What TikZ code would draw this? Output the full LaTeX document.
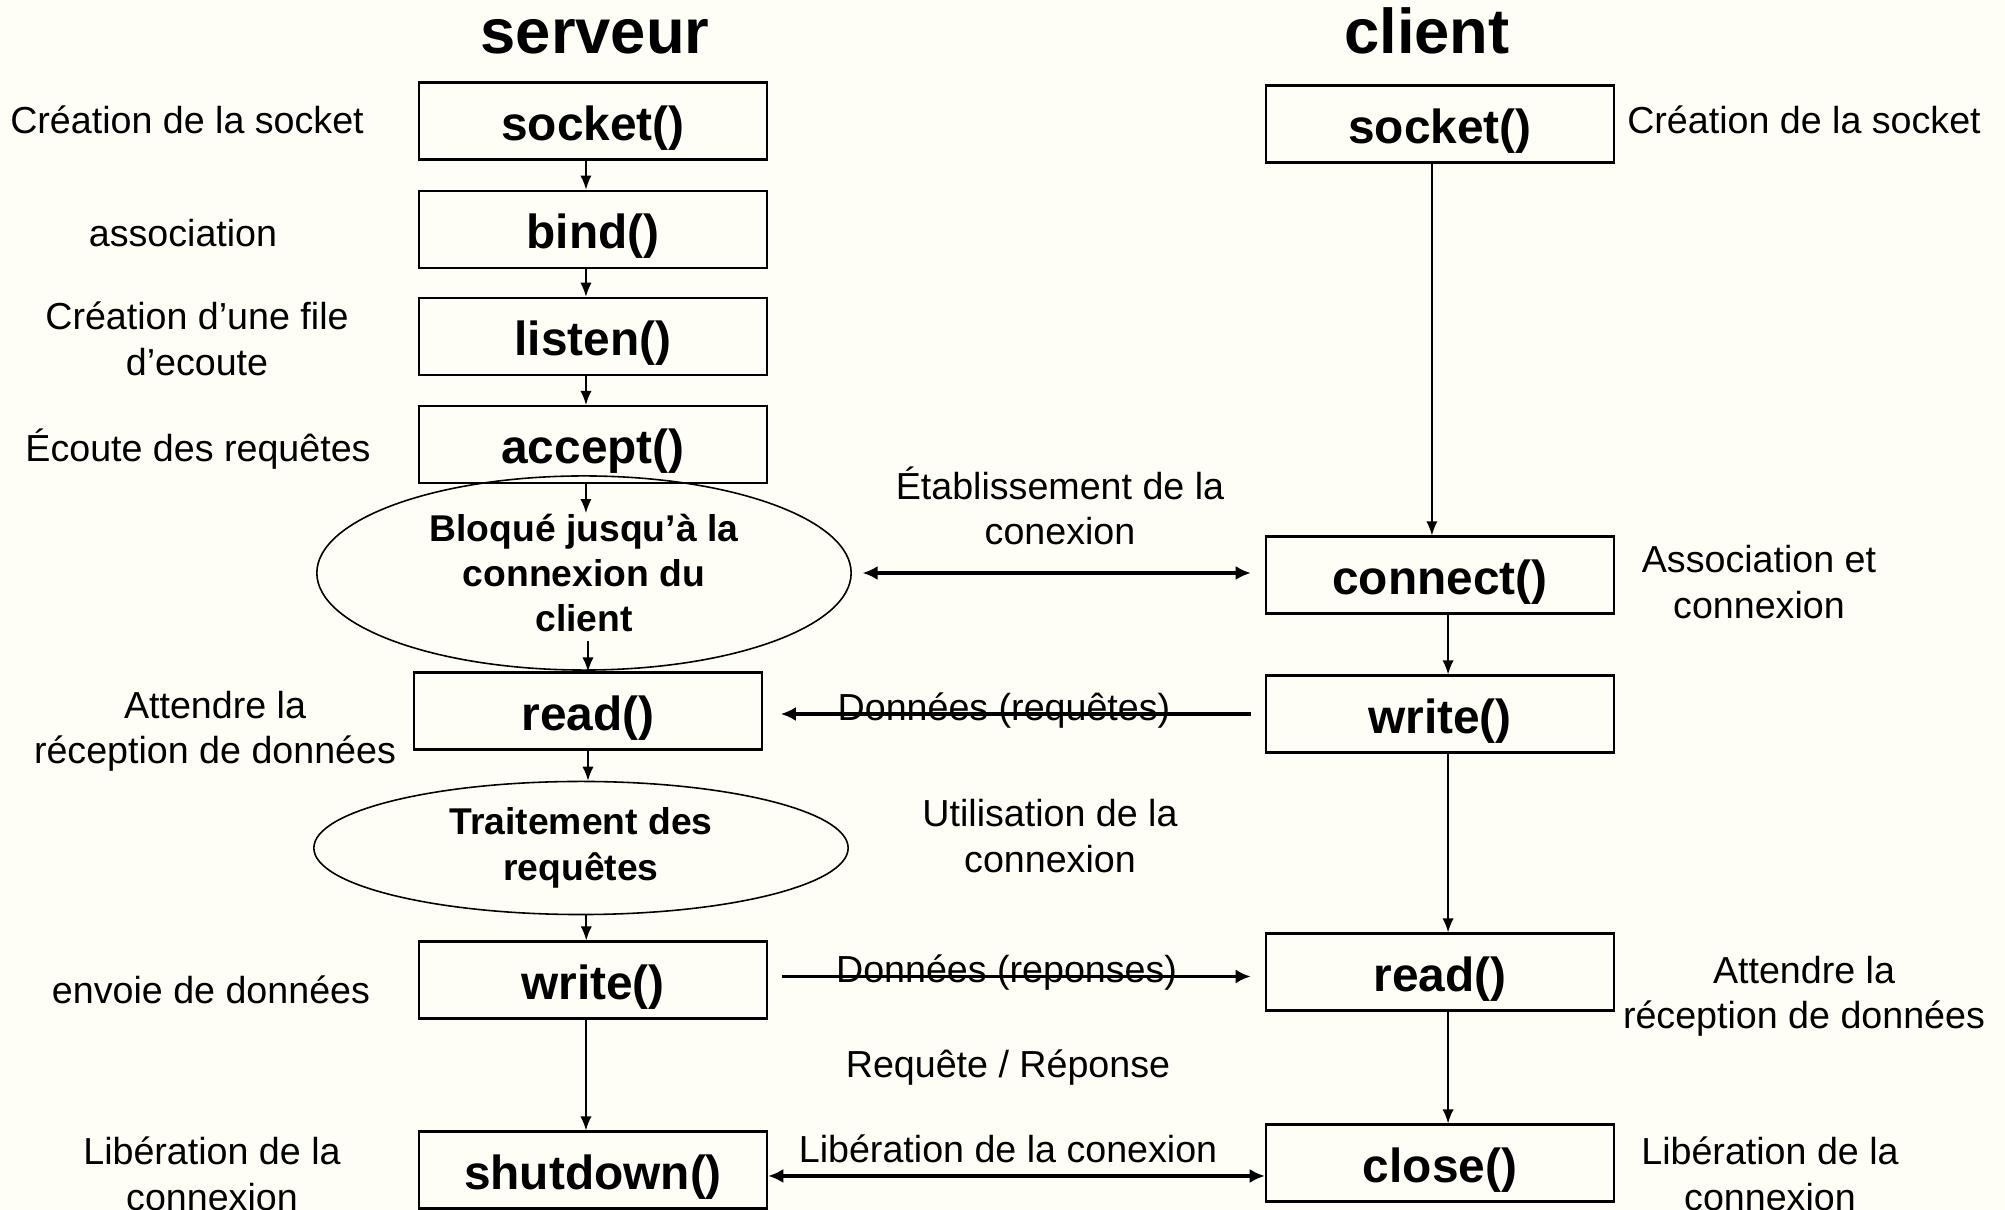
\documentclass[tikz,border=0pt]{standalone}
\usepackage{fontspec}
\setmainfont{Liberation Sans}
\usetikzlibrary{arrows.meta,positioning,shapes}
\definecolor{paper}{RGB}{254,254,246}
\tikzset{
	call/.style = {draw, rectangle, minimum width = 3.48cm, minimum height = 0.77cm, line width = 0.6pt,
		text height = 11pt, text depth = 0pt, font = \fontsize{13.6}{16}\selectfont\bfseries},
	state/.style = {draw, ellipse, inner sep = 0mm, align = center, line width = 0.45pt, font = \fontsize{10.6}{12.9}\selectfont\bfseries},
	note/.style = {align = center, font = \fontsize{10.7}{12.9}\selectfont},
	side/.style = {anchor = base, font = \fontsize{18}{21}\selectfont\bfseries},
	next/.style = {-{Latex[length=4pt, width=3.2pt]}, line width = 0.45pt},
	msg/.style = {-{Latex[length=4.3pt, width=4pt]}, line width = 1pt},
	msg both/.style = {{Latex[length=4.3pt, width=4pt]}-{Latex[length=4.3pt, width=4pt]}, line width = 1pt}
}

\begin{document}
\begin{tikzpicture}[x = 0.01cm, y = -0.01cm]
	\useasboundingbox (0,0) rectangle (2005,1210);
	\fill [paper] (0,0) rectangle (2005,1210);

	\node [side] (srv) at (595,54) {serveur};
	\node [side] (cli) at (1427,54) {client};

	% serveur
	\node [call] (ssock) at (593,121) {socket()};
	\node [call, below=0.29cm of ssock] (sbind) {bind()};
	\node [call, below=0.28cm of sbind] (slist) {listen()};
	\node [call, below=0.29cm of slist] (sacc) {accept()};
	\node [state, minimum width = 5.34cm, minimum height = 1.94cm] (wait) at (584,573)
		{Bloqué jusqu’à la\\connexion du\\client};
	\node [call] (sread) at (588,711) {read()};
	\node [state, minimum width = 5.34cm, minimum height = 1.33cm] (work) at (581,848)
		{Traitement des\\requêtes};
	\node [call] (swrite) at (593,980) {write()};
	\node [call] (sshut) at (593,1170) {shutdown()};

	\draw [next] ([xshift=-2pt]ssock.south) -- ([xshift=-2pt]sbind.north);
	\draw [next] ([xshift=-2pt]sbind.south) -- ([xshift=-2pt]slist.north);
	\draw [next] ([xshift=-2pt]slist.south) -- ([xshift=-2pt]sacc.north);
	\draw [next] ([xshift=-2pt]sacc.south) -- ++(0,29);
	\draw [next] (sread.north) ++(0,-30) -- (sread.north);
	\draw [next] (sread.south) -- (sread.south |- work.north);
	\draw [next] ([xshift=1.5pt]work.south) -- ([xshift=1.5pt]work.south |- swrite.north);
	\draw [next] ([xshift=-2pt]swrite.south) -- ([xshift=-2pt]sshut.north);

	% client
	\node [call] (csock) at (1440,124) {socket()};
	\node [call] (conn) at (1440,575) {connect()};
	\node [call] (cwrite) at (1440,714) {write()};
	\node [call] (cread) at (1440,972) {read()};
	\node [call] (close) at (1440,1163) {close()};

	\draw [next] ([xshift=-2.3pt]csock.south) -- ([xshift=-2.3pt]conn.north);
	\draw [next] ([xshift=2.3pt]conn.south) -- ([xshift=2.3pt]cwrite.north);
	\draw [next] ([xshift=2.3pt]cwrite.south) -- ([xshift=2.3pt]cread.north);
	\draw [next] ([xshift=2.3pt]cread.south) -- ([xshift=2.3pt]close.north);

	% echanges
	\draw [msg both, shorten <= 3pt, shorten >= 4pt] (wait.east) -- (wait.east -| conn.west);
	\draw [msg, shorten <= 4pt, shorten >= 5pt] (cwrite.west) -- (cwrite.west -| sread.east)
		node [note, pos = 0.52, yshift = 1pt] {Données (requêtes)};
	\draw [msg, shorten <= 4pt, shorten >= 4pt] ([yshift=1pt]swrite.east) -- ([yshift=1pt]swrite.east -| cread.west)
		node [note, pos = 0.48, yshift = 1pt] {Données (reponses)};
	\draw [msg both] ([yshift=-1.7pt]sshut.east) -- ([yshift=-1.7pt]sshut.east -| close.west)
		node [note, pos = 0.483, above] {Libération de la conexion};

	\node [note] (etab) at (1060,506) {Établissement de la\\conexion};
	\node [note] (util) at (1050,836) {Utilisation de la\\connexion};
	\node [note] (reqrep) at (1008,1068) {Requête / Réponse};

	% commentaires
	\node [note] (n1) at (187,120) {Création de la socket};
	\node [note] (n2) at (183,233) {association};
	\node [note] (n3) at (197,339) {Création d’une file\\d’ecoute};
	\node [note] (n4) at (198,449) {Écoute des requêtes};
	\node [note] (n5) at (215,731) {Attendre la\\réception de données};
	\node [note] (n6) at (211,990) {envoie de données};
	\node [note] (n7) at (212,1174) {Libération de la\\connexion};
	\node [note] (m1) at (1804,120) {Création de la socket};
	\node [note] (m2) at (1759,582) {Association et\\connexion};
	\node [note] (m3) at (1804,996) {Attendre la\\réception de données};
	\node [note] (m4) at (1770,1174) {Libération de la\\connexion};
\end{tikzpicture}
\end{document}
